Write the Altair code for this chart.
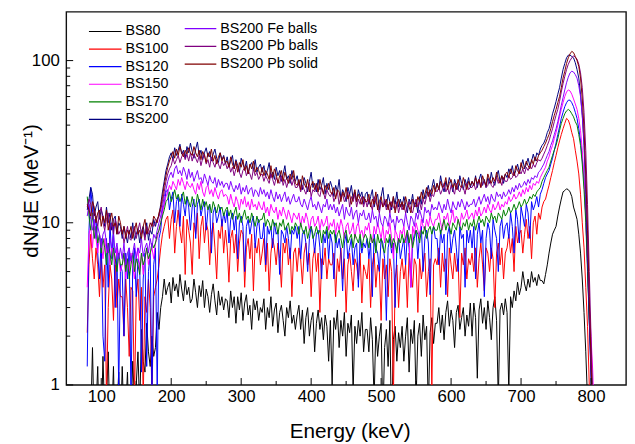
import altair as alt
import pandas as pd

# ---------------- data ----------------
# spectra sampled every 2.5 keV from 80 keV to 805 keV (291 bins)
E_START, E_STEP = 80.0, 2.5

series_names = ["BS80", "BS100", "BS120", "BS150", "BS170", "BS200",
                "BS200 Fe balls", "BS200 Pb balls", "BS200 Pb solid"]
series_colors = ["#000000", "#FF0000", "#0000FF", "#FF00FF", "#008000",
                 "#000080", "#8000FF", "#800080", "#800000"]

bs80 = [
    0.5, 0.4, 0.6, 1.7, 0.5, 0.7, 1.3, 0.4, 0.5, 1.5, 0.6, 0.8, 1.6, 0.5, 0.6, 1.3, 0.4, 0.7, 1.2, 0.5,
    1.3, 0.6, 0.7, 1.2, 0.5, 0.6, 1.4, 0.8, 1.0, 1.6, 0.7, 2.2, 1.4, 1.2, 2.4, 1.6, 1.3, 2.0, 1.5, 1.7,
    2.8, 2.2, 3.0, 3.5, 4.5, 3.6, 4.0, 4.3, 3.2, 4.6, 3.8, 4.2, 3.5, 4.8, 3.9, 3.3, 4.4, 3.6, 4.0, 3.2,
    3.4, 4.5, 3.7, 3.0, 4.1, 3.5, 4.4, 3.0, 3.9, 3.5, 2.8, 3.6, 4.2, 3.3, 2.7, 3.8, 3.1, 3.5, 2.9, 3.4,
    3.3, 2.6, 3.8, 3.0, 3.5, 2.4, 3.5, 2.9, 3.7, 2.5, 3.2, 3.6, 2.7, 3.1, 2.2, 3.4, 2.9, 3.3, 2.5, 3.0,
    2.8, 3.4, 2.2, 3.0, 2.6, 3.5, 2.3, 2.9, 3.2, 2.1, 2.8, 3.1, 2.5, 2.0, 3.0, 2.6, 3.3, 2.4, 2.7, 2.2,
    2.7, 3.1, 2.2, 2.9, 1.8, 2.6, 3.0, 2.0, 2.5, 2.8, 1.6, 2.4, 2.9, 2.2, 2.6, 1.9, 2.7, 2.3, 1.4, 2.5,
    1.0, 2.6, 2.2, 2.9, 1.7, 2.5, 2.0, 2.8, 1.5, 2.4, 2.1, 2.7, 0.9, 2.3, 1.8, 2.5, 2.0, 2.8, 1.6, 2.2,
    2.2, 1.6, 2.6, 1.9, 0.8, 2.3, 1.5, 2.0, 2.4, 0.6, 1.7, 2.2, 1.3, 2.5, 0.5, 1.9, 2.3, 1.4, 2.1, 1.7,
    2.3, 1.4, 2.0, 2.6, 1.2, 2.2, 1.8, 2.5, 0.8, 2.0, 2.4, 1.5, 2.7, 1.9, 2.3, 0.7, 2.1, 2.6, 1.8, 2.4,
    2.4, 3.0, 2.1, 2.7, 1.9, 2.8, 3.3, 2.3, 2.9, 2.5, 1.7, 2.8, 3.1, 2.2, 2.6, 3.0, 2.0, 2.7, 2.3, 3.2,
    2.0, 3.2, 2.6, 1.1, 2.9, 3.4, 2.4, 3.0, 2.2, 3.3, 2.6, 1.9, 3.0, 3.5, 2.5, 0.8, 2.9, 3.2, 2.7, 3.4,
    2.8, 0.9, 3.5, 3.0, 3.8, 3.3, 4.3, 3.6, 4.0, 5.0, 4.2, 3.8, 4.5, 4.0, 5.0, 4.3, 4.6, 4.1, 4.8, 4.4,
    4.4, 4.2, 4.8, 5.5, 6.5, 7.5, 8.5, 9.0, 9.5, 11.0, 12.5, 14.0, 15.5, 15.8, 16.2, 16.0, 15.5, 14.5, 12.5, 11.5,
    10.5, 8.5, 6.5, 4.5, 2.8, 1.6, 0.8, 0.5, 0.5, 0.5, 0.5]

bs100 = [
    2.1, 5.5, 8.5, 6.0, 4.5, 7.0, 5.5, 3.5, 6.5, 4.0, 5.5, 0.8, 3.0, 5.5, 4.5, 2.5, 6.0, 3.0, 4.5, 3.5,
    3.5, 2.0, 4.5, 3.0, 1.5, 4.0, 3.8, 0.8, 3.5, 4.5, 2.5, 4.0, 0.8, 3.5, 2.8, 4.5, 3.0, 0.8, 3.5, 4.0,
    4.5, 5.5, 7.0, 8.5, 9.5, 10.5, 11.0, 8.0, 10.5, 12.0, 6.5, 9.5, 12.0, 9.0, 7.5, 11.0, 4.8, 10.5, 9.0, 7.5,
    4.8, 10.0, 8.5, 11.5, 6.0, 9.5, 11.0, 7.5, 10.0, 9.0, 5.5, 8.5, 10.0, 7.0, 4.5, 9.0, 8.0, 10.5, 6.5, 9.0,
    7.0, 4.3, 8.0, 9.0, 6.5, 8.5, 5.0, 7.5, 9.0, 8.5, 4.0, 7.0, 8.0, 6.0, 8.5, 3.8, 7.5, 6.5, 8.0, 5.5,
    6.5, 8.0, 5.0, 7.5, 3.8, 6.5, 8.0, 7.0, 5.5, 7.5, 6.0, 4.0, 7.5, 6.5, 8.0, 5.5, 7.0, 3.5, 6.5, 7.0,
    5.0, 7.0, 6.0, 4.2, 6.5, 7.5, 5.5, 6.5, 3.5, 6.0, 7.0, 5.0, 6.5, 2.8, 6.0, 5.5, 7.0, 4.5, 6.0, 5.5,
    5.5, 6.5, 3.5, 6.0, 5.0, 7.0, 4.5, 6.0, 2.8, 5.5, 6.5, 5.0, 3.8, 6.0, 5.5, 4.5, 6.5, 3.2, 5.5, 5.0,
    4.5, 6.0, 3.0, 5.5, 6.5, 4.0, 5.5, 5.0, 2.5, 6.0, 4.5, 5.5, 3.5, 6.0, 5.0, 0.8, 4.5, 5.5, 3.0, 5.0,
    6.0, 4.5, 5.5, 3.0, 6.5, 5.0, 4.0, 6.0, 5.5, 2.8, 6.0, 4.5, 5.5, 6.5, 3.5, 5.0, 6.0, 0.9, 5.5, 6.0,
    5.5, 7.0, 4.0, 6.5, 5.0, 6.0, 3.5, 7.0, 5.5, 4.5, 6.5, 5.0, 6.0, 2.6, 6.5, 5.5, 7.0, 4.5, 6.0, 5.5,
    6.5, 5.0, 7.0, 4.0, 6.0, 7.5, 5.5, 3.8, 7.0, 6.5, 5.0, 7.0, 6.0, 3.0, 6.5, 7.5, 5.5, 7.0, 4.5, 6.5,
    7.0, 8.5, 6.5, 8.0, 5.0, 9.5, 7.5, 8.5, 9.0, 6.5, 8.5, 10.5, 8.0, 9.5, 6.0, 10.0, 11.0, 8.5, 11.5, 10.5,
    12.5, 13.5, 14.0, 15.5, 17.0, 19.0, 21.0, 23.5, 26.0, 29.0, 32.0, 35.0, 38.0, 41.0, 44.0, 43.0, 40.0, 36.0, 33.0, 28.0,
    24.0, 20.0, 15.0, 10.0, 7.0, 4.0, 2.3, 1.0, 0.6, 0.5, 0.5]

bs120 = [
    1.3, 9.0, 16.5, 12.0, 9.0, 11.0, 6.5, 4.5, 8.0, 2.0, 1.4, 8.0, 4.0, 10.0, 6.0, 9.5, 3.0, 7.0, 0.9, 5.5,
    5.0, 2.0, 6.5, 4.5, 7.0, 0.8, 5.5, 7.0, 3.5, 6.0, 5.5, 1.2, 4.5, 6.5, 1.3, 5.0, 6.5, 0.8, 5.5, 7.0,
    0.9, 8.0, 9.0, 12.0, 13.0, 15.5, 16.0, 12.0, 14.0, 15.5, 10.0, 13.5, 14.5, 9.5, 15.0, 13.0, 11.0, 14.5, 12.5, 9.0,
    12.5, 14.0, 8.0, 13.0, 14.0, 11.0, 12.5, 13.5, 9.0, 12.0, 13.0, 6.5, 11.5, 12.5, 10.0, 11.0, 12.5, 9.5, 11.5, 10.0,
    12.0, 7.5, 10.5, 11.5, 9.0, 11.0, 6.0, 10.0, 11.0, 9.5, 5.0, 9.5, 10.5, 8.5, 10.0, 11.0, 7.0, 9.5, 10.5, 8.0,
    8.0, 10.0, 5.5, 9.5, 8.5, 9.5, 7.0, 10.0, 8.5, 9.0, 4.8, 9.0, 8.5, 7.5, 9.5, 8.0, 6.0, 9.0, 8.5, 9.5,
    8.0, 9.5, 6.0, 8.5, 9.0, 7.5, 5.0, 8.0, 9.5, 8.5, 6.5, 8.5, 9.0, 7.0, 4.5, 8.5, 7.5, 9.0, 6.0, 8.5,
    7.5, 4.5, 8.5, 7.0, 8.0, 6.5, 3.8, 7.5, 8.5, 6.0, 7.0, 8.0, 5.5, 7.0, 7.5, 4.0, 8.0, 6.5, 7.5, 7.0,
    8.0, 6.0, 7.5, 3.5, 8.5, 7.0, 6.5, 5.0, 8.0, 7.5, 6.0, 2.5, 7.0, 8.0, 6.5, 7.5, 3.0, 7.0, 8.0, 6.0,
    7.0, 8.0, 5.5, 8.5, 7.0, 4.0, 7.5, 8.5, 9.0, 6.0, 8.5, 9.5, 5.0, 8.0, 9.0, 7.5, 3.6, 8.5, 9.5, 8.0,
    8.0, 5.5, 9.0, 7.5, 8.5, 3.6, 8.5, 9.5, 6.5, 8.0, 9.0, 7.0, 5.0, 9.5, 8.0, 8.5, 4.0, 9.0, 7.5, 9.0,
    7.0, 9.5, 4.5, 8.5, 10.0, 7.5, 9.0, 3.5, 8.0, 10.0, 9.0, 6.0, 10.5, 9.0, 8.0, 5.0, 9.5, 10.5, 8.0, 9.5,
    10.0, 8.0, 11.5, 9.5, 6.5, 12.0, 10.5, 7.5, 12.5, 11.0, 9.5, 13.0, 11.5, 8.0, 13.5, 12.0, 13.0, 14.5, 12.5, 15.0,
    16.0, 17.5, 19.0, 20.0, 21.0, 23.0, 25.0, 28.0, 31.0, 35.0, 39.0, 44.0, 48.0, 52.0, 55.0, 57.0, 57.0, 55.0, 52.0, 48.0,
    44.0, 38.0, 32.0, 25.0, 18.0, 11.0, 5.5, 2.5, 1.2, 0.5, 0.5]

bs150 = [
    4.0, 8.5, 9.5, 7.0, 10.0, 8.0, 6.5, 8.5, 7.5, 6.0, 8.0, 6.5, 7.5, 5.5, 7.0, 6.5, 5.5, 7.0, 6.0, 5.0,
    5.5, 6.5, 4.5, 6.0, 5.0, 6.5, 5.5, 4.5, 6.0, 7.0, 5.0, 6.5, 4.8, 6.0, 7.0, 5.5, 6.5, 7.0, 6.0, 7.5,
    8.0, 9.0, 10.0, 11.5, 13.0, 14.5, 15.5, 17.0, 16.0, 18.0, 17.0, 16.0, 18.5, 17.0, 19.0, 17.5, 16.0, 18.0, 17.0, 16.5,
    17.5, 16.0, 15.0, 17.5, 16.0, 18.0, 15.5, 14.5, 16.5, 17.0, 15.0, 16.0, 14.5, 16.5, 15.0, 14.0, 15.5, 16.0, 14.5, 15.0,
    14.5, 13.0, 15.0, 13.5, 12.5, 14.5, 13.5, 12.0, 14.0, 13.0, 14.5, 12.5, 13.5, 12.0, 14.0, 12.5, 13.0, 12.0, 13.5, 12.5,
    12.0, 13.5, 11.5, 12.5, 11.0, 13.0, 12.0, 11.5, 12.5, 10.5, 12.0, 11.0, 12.5, 11.5, 10.5, 12.0, 11.0, 10.0, 11.5, 11.0,
    10.5, 11.5, 9.5, 11.0, 10.0, 11.5, 10.5, 9.0, 10.5, 11.0, 9.5, 10.0, 11.0, 9.0, 10.5, 9.5, 10.0, 11.0, 9.0, 10.0,
    9.5, 10.5, 8.5, 10.0, 9.0, 10.5, 9.5, 8.0, 9.5, 10.0, 8.5, 9.0, 10.0, 8.0, 9.5, 10.0, 8.5, 9.0, 8.0, 9.5,
    9.0, 10.0, 8.0, 7.5, 9.5, 8.5, 10.0, 9.0, 8.0, 9.5, 7.5, 9.0, 8.5, 10.0, 8.0, 6.0, 9.0, 8.5, 7.5, 9.0,
    8.5, 9.5, 7.5, 9.0, 8.0, 4.0, 9.5, 8.5, 10.0, 9.0, 8.0, 10.5, 9.5, 9.0, 10.5, 9.5, 11.0, 10.0, 9.5, 10.5,
    10.5, 11.5, 10.0, 9.0, 11.0, 10.5, 11.5, 9.5, 10.5, 12.0, 10.0, 11.0, 10.5, 9.5, 11.5, 10.5, 11.0, 12.0, 10.5, 11.0,
    11.5, 10.5, 12.0, 11.0, 12.5, 11.0, 11.5, 12.5, 11.5, 13.0, 12.0, 11.5, 13.0, 12.0, 12.5, 13.5, 12.0, 13.0, 12.5, 13.5,
    13.0, 14.5, 13.5, 14.0, 15.0, 14.0, 14.5, 15.5, 14.5, 16.0, 15.0, 16.5, 15.5, 17.0, 16.0, 17.5, 17.0, 18.0, 17.5, 19.0,
    20.0, 21.0, 22.0, 24.0, 25.5, 28.0, 30.0, 33.0, 36.0, 40.0, 45.0, 50.0, 55.0, 60.0, 64.0, 66.0, 65.0, 62.0, 58.0, 54.0,
    50.0, 44.0, 37.0, 28.0, 19.0, 11.0, 5.5, 3.0, 2.0, 1.2, 0.5]

bs170 = [
    14.5, 11.0, 9.0, 11.5, 8.0, 9.5, 7.5, 8.5, 6.5, 8.0, 7.0, 5.5, 7.5, 6.5, 5.5, 7.0, 6.0, 5.0, 6.5, 5.5,
    5.5, 6.5, 5.0, 6.0, 4.5, 5.5, 6.5, 5.0, 6.0, 5.5, 4.8, 6.5, 5.5, 6.0, 7.0, 6.0, 6.5, 7.5, 7.0, 7.5,
    8.5, 9.0, 10.0, 11.0, 12.0, 13.5, 14.0, 15.5, 13.5, 14.5, 16.0, 14.0, 15.0, 13.5, 14.5, 15.5, 13.0, 14.5, 13.5, 12.5,
    14.5, 13.0, 12.5, 15.0, 13.5, 12.0, 14.0, 12.5, 13.5, 12.0, 13.0, 11.5, 13.5, 12.5, 11.5, 13.0, 12.0, 12.5, 11.0, 12.0,
    12.5, 11.0, 12.0, 10.5, 11.5, 12.5, 10.5, 11.5, 10.0, 11.0, 12.0, 10.5, 11.0, 10.0, 11.5, 10.5, 9.5, 11.0, 10.0, 10.5,
    10.5, 11.5, 9.5, 10.5, 10.0, 9.0, 10.5, 9.5, 10.0, 8.5, 10.0, 9.5, 10.5, 9.0, 9.5, 10.0, 8.5, 9.5, 9.0, 10.0,
    9.5, 8.5, 10.0, 9.0, 8.5, 9.5, 8.0, 9.0, 9.5, 8.0, 8.5, 9.5, 8.5, 9.0, 7.5, 9.0, 8.5, 9.5, 8.0, 9.0,
    8.5, 9.0, 7.5, 8.5, 9.0, 8.0, 7.0, 8.5, 9.0, 7.5, 8.0, 8.5, 7.0, 8.5, 8.0, 7.5, 8.5, 7.0, 8.0, 8.5,
    8.0, 7.0, 8.5, 7.5, 8.0, 6.5, 8.5, 7.5, 8.0, 7.0, 6.5, 8.0, 7.5, 8.5, 7.0, 8.0, 7.5, 6.5, 8.0, 7.5,
    8.5, 7.5, 8.0, 9.0, 7.5, 8.5, 7.0, 8.0, 9.0, 8.5, 7.5, 9.0, 8.5, 9.5, 8.0, 9.0, 9.5, 8.5, 9.5, 9.0,
    9.0, 10.0, 8.5, 9.5, 10.5, 9.0, 10.0, 9.5, 8.5, 10.0, 9.5, 9.0, 10.5, 9.5, 9.0, 10.0, 9.5, 10.5, 9.0, 10.0,
    9.5, 10.5, 9.0, 10.0, 11.0, 10.0, 10.5, 9.5, 11.0, 10.5, 10.0, 11.5, 10.5, 11.0, 10.0, 11.5, 11.0, 10.5, 12.0, 11.0,
    11.5, 12.5, 11.5, 12.0, 13.0, 12.0, 12.5, 13.5, 12.5, 13.0, 14.0, 13.0, 13.5, 14.5, 14.0, 15.0, 14.5, 15.5, 16.0, 16.5,
    18.0, 19.0, 20.0, 21.0, 22.0, 24.0, 26.0, 28.0, 30.0, 33.0, 37.0, 41.0, 44.0, 47.0, 49.0, 50.0, 49.0, 47.0, 45.0, 42.0,
    40.0, 35.0, 30.0, 23.0, 16.0, 10.0, 5.0, 2.5, 1.5, 0.8, 0.5]

bs200 = [
    12.0, 14.0, 16.5, 15.0, 11.0, 12.5, 13.5, 10.5, 12.0, 11.0, 9.5, 12.5, 10.0, 11.5, 9.0, 10.5, 11.0, 8.5, 10.0, 9.5,
    8.0, 9.5, 8.5, 7.5, 9.0, 8.0, 10.0, 7.8, 8.5, 9.2, 7.5, 8.8, 9.5, 8.2, 10.0, 7.8, 9.0, 8.5, 10.5, 9.5,
    10.5, 11.0, 13.0, 15.5, 18.0, 21.0, 23.0, 25.5, 27.0, 24.5, 29.0, 26.0, 28.0, 30.5, 26.5, 28.0, 25.0, 29.5, 27.0, 31.0,
    27.5, 25.0, 28.5, 31.5, 26.0, 28.0, 24.5, 27.0, 29.0, 25.5, 27.5, 24.0, 26.5, 28.5, 25.0, 23.5, 27.0, 24.5, 26.0, 23.0,
    25.5, 22.0, 24.0, 26.0, 21.5, 24.5, 22.5, 20.5, 25.0, 23.0, 21.5, 24.0, 20.0, 22.5, 23.5, 21.0, 24.5, 20.5, 22.0, 23.0,
    20.5, 22.5, 19.5, 21.0, 23.5, 19.0, 20.5, 18.5, 22.0, 19.5, 21.0, 18.0, 20.0, 22.5, 18.5, 19.5, 17.5, 21.0, 19.0, 18.0,
    19.5, 17.0, 18.5, 16.0, 19.0, 17.5, 15.5, 18.0, 20.5, 16.5, 17.5, 15.5, 18.5, 16.0, 17.0, 19.0, 15.0, 17.5, 16.0, 18.0,
    16.5, 14.5, 17.0, 15.5, 18.5, 14.0, 16.0, 15.0, 13.5, 16.5, 15.0, 17.0, 14.0, 15.5, 13.5, 16.0, 14.5, 15.5, 13.0, 15.0,
    15.5, 13.0, 14.5, 16.0, 12.5, 14.0, 15.0, 12.0, 14.5, 16.5, 13.0, 12.5, 15.0, 13.5, 12.0, 14.5, 13.0, 15.5, 12.5, 14.0,
    12.5, 14.5, 13.0, 11.5, 14.0, 13.0, 15.0, 12.5, 13.5, 11.5, 14.5, 13.0, 16.0, 14.0, 15.5, 17.0, 14.5, 16.5, 18.5, 16.0,
    17.5, 16.0, 19.5, 17.0, 15.5, 18.0, 16.5, 19.0, 17.5, 15.5, 18.5, 17.0, 16.0, 19.5, 17.5, 16.0, 18.5, 17.0, 19.0, 16.5,
    18.0, 17.0, 19.5, 16.5, 18.5, 20.0, 17.0, 18.5, 16.5, 19.0, 17.5, 20.5, 18.0, 17.0, 19.5, 21.0, 18.0, 19.5, 17.5, 20.0,
    19.0, 21.5, 20.0, 22.5, 19.5, 21.0, 23.0, 20.5, 22.0, 24.5, 21.5, 23.0, 25.0, 22.5, 24.0, 26.5, 24.0, 27.0, 26.0, 28.5,
    30.0, 31.0, 33.0, 36.0, 38.0, 42.0, 47.0, 51.0, 56.0, 62.0, 68.0, 78.0, 88.0, 96.0, 104.0, 108.0, 108.0, 106.0, 104.0, 97.0,
    88.0, 78.0, 62.0, 46.0, 30.0, 15.0, 6.0, 2.5, 1.1, 0.6, 0.5]

bs200_fe = [
    11.0, 13.0, 10.5, 9.0, 10.5, 8.0, 9.5, 8.5, 7.0, 8.5, 9.0, 7.5, 6.5, 8.0, 7.0, 8.5, 6.5, 7.5, 6.0, 7.0,
    6.0, 7.5, 5.5, 6.5, 7.0, 5.8, 6.5, 7.5, 6.0, 7.0, 6.5, 8.0, 6.2, 7.0, 7.5, 6.5, 8.0, 7.0, 8.5, 8.0,
    9.0, 10.0, 11.0, 12.5, 14.5, 16.0, 18.0, 19.5, 20.5, 19.0, 21.5, 22.5, 20.0, 21.0, 19.5, 22.0, 20.5, 18.5, 21.5, 19.0,
    20.5, 18.0, 19.5, 21.0, 18.5, 19.0, 17.5, 20.0, 18.5, 17.0, 19.5, 18.0, 17.5, 19.0, 16.5, 18.5, 17.0, 18.0, 16.5, 17.5,
    17.5, 16.0, 18.0, 16.5, 15.5, 17.0, 16.0, 17.5, 15.0, 16.5, 15.5, 17.0, 15.0, 16.0, 16.5, 14.5, 16.0, 15.5, 14.5, 16.5,
    15.0, 16.0, 14.5, 15.5, 14.0, 16.0, 14.5, 13.5, 15.5, 14.0, 15.0, 13.5, 14.5, 15.5, 13.5, 14.5, 13.0, 14.0, 15.0, 13.5,
    13.5, 14.5, 13.0, 12.5, 14.0, 13.0, 12.0, 13.5, 14.5, 12.5, 13.0, 12.0, 13.5, 12.5, 11.5, 13.0, 12.5, 14.0, 12.0, 13.0,
    12.0, 13.0, 11.5, 12.5, 11.0, 12.0, 13.0, 10.5, 12.5, 11.5, 11.0, 12.5, 10.5, 11.5, 12.0, 10.0, 11.5, 11.0, 12.0, 10.5,
    10.5, 11.5, 10.0, 12.0, 10.5, 11.0, 9.5, 11.5, 10.0, 9.5, 11.0, 10.5, 9.5, 11.5, 10.0, 10.5, 9.0, 11.0, 10.0, 10.5,
    10.5, 9.5, 11.5, 10.0, 9.0, 11.0, 10.5, 9.5, 11.5, 10.5, 12.0, 11.0, 10.0, 12.5, 11.5, 12.0, 11.0, 13.0, 12.0, 12.5,
    12.0, 13.5, 12.5, 11.5, 13.0, 12.0, 14.0, 12.5, 11.5, 13.5, 12.5, 12.0, 13.5, 12.5, 14.0, 13.0, 12.0, 13.5, 12.5, 13.0,
    13.0, 14.0, 12.5, 13.5, 14.5, 13.0, 14.0, 15.0, 13.5, 14.5, 13.0, 15.0, 14.0, 13.5, 15.5, 14.5, 15.0, 14.0, 15.5, 14.5,
    15.0, 16.0, 15.0, 16.5, 15.5, 17.0, 16.0, 17.5, 16.5, 17.0, 18.0, 17.0, 18.5, 17.5, 19.0, 18.5, 19.5, 19.0, 20.5, 21.0,
    22.0, 23.0, 24.5, 26.0, 27.5, 30.0, 32.0, 35.0, 38.0, 42.0, 47.0, 53.0, 59.0, 66.0, 73.0, 79.0, 84.0, 86.0, 85.0, 82.0,
    78.0, 70.0, 60.0, 46.0, 32.0, 18.0, 8.0, 3.2, 1.4, 0.6, 0.5]

bs200_pb_balls = [
    12.5, 14.0, 13.0, 10.5, 12.0, 11.0, 9.5, 11.5, 12.5, 10.0, 9.0, 10.5, 11.5, 9.0, 10.0, 8.5, 10.5, 9.5, 8.5, 9.0,
    9.0, 7.5, 8.5, 9.5, 8.0, 7.8, 8.8, 9.5, 8.0, 9.0, 10.0, 8.5, 9.0, 7.8, 9.5, 8.5, 9.0, 10.0, 9.5, 10.0,
    10.5, 11.0, 12.0, 13.5, 15.5, 18.0, 20.0, 21.5, 22.5, 25.0, 23.0, 24.5, 26.0, 23.5, 25.5, 27.0, 24.5, 26.5, 24.0, 27.0,
    24.0, 26.5, 25.0, 23.5, 26.0, 22.5, 25.0, 26.5, 23.0, 24.5, 22.0, 25.5, 23.5, 22.0, 24.5, 23.0, 21.5, 24.0, 22.5, 23.5,
    21.5, 23.0, 20.5, 22.0, 19.5, 21.5, 22.5, 20.5, 19.0, 21.0, 22.0, 19.5, 21.0, 20.0, 18.5, 21.5, 19.5, 20.5, 18.5, 19.5,
    20.0, 18.0, 19.5, 18.5, 17.5, 20.0, 18.5, 17.0, 19.0, 18.0, 17.5, 19.5, 17.0, 18.5, 16.5, 18.0, 19.0, 17.0, 18.5, 16.5,
    16.5, 17.5, 15.5, 17.0, 16.0, 15.0, 16.5, 17.5, 14.5, 16.0, 15.5, 17.0, 15.0, 14.5, 16.5, 15.5, 14.0, 16.0, 15.0, 14.5,
    15.5, 13.5, 14.5, 15.5, 13.0, 14.5, 15.0, 13.5, 14.0, 15.5, 12.5, 14.5, 13.5, 15.0, 12.5, 14.0, 13.0, 14.5, 12.5, 14.0,
    12.5, 14.0, 13.0, 12.0, 14.5, 13.5, 12.5, 11.5, 13.5, 12.5, 14.0, 12.0, 13.0, 11.5, 13.5, 12.5, 12.0, 13.5, 11.5, 13.0,
    12.0, 13.0, 11.5, 12.5, 13.5, 12.0, 11.5, 13.0, 14.0, 12.5, 13.5, 12.0, 14.0, 13.0, 14.5, 15.5, 13.5, 15.0, 14.5, 16.0,
    15.5, 16.5, 15.0, 16.0, 17.5, 15.5, 16.5, 15.0, 17.0, 16.0, 15.0, 17.5, 16.0, 15.5, 17.0, 16.5, 15.0, 17.5, 16.0, 16.5,
    16.5, 17.5, 16.0, 17.0, 18.5, 16.5, 17.5, 18.0, 16.5, 17.0, 18.5, 17.0, 16.5, 18.0, 19.0, 17.5, 18.5, 17.0, 19.0, 18.0,
    18.0, 19.5, 18.5, 19.0, 20.5, 19.0, 19.5, 21.0, 20.0, 21.5, 20.0, 22.0, 21.0, 22.5, 21.5, 23.0, 22.0, 23.5, 24.5, 24.0,
    25.0, 26.5, 28.0, 30.0, 32.0, 35.0, 38.0, 42.0, 46.0, 50.0, 56.0, 64.0, 72.0, 80.0, 88.0, 95.0, 100.0, 104.0, 107.0, 105.0,
    102.0, 95.0, 84.0, 68.0, 48.0, 28.0, 13.0, 5.0, 2.0, 0.8, 0.5]

bs200_pb_solid = [
    13.0, 12.0, 11.0, 13.5, 12.5, 10.0, 11.5, 12.0, 9.5, 11.0, 10.0, 12.0, 9.0, 10.5, 11.5, 9.5, 10.0, 8.5, 11.0, 10.0,
    8.5, 9.5, 8.0, 9.0, 8.5, 9.5, 8.0, 9.0, 10.0, 8.5, 9.0, 8.0, 9.5, 10.5, 8.5, 9.0, 10.0, 9.5, 11.0, 10.5,
    10.0, 11.5, 12.5, 14.5, 17.0, 19.5, 22.0, 24.0, 25.5, 27.5, 25.0, 28.5, 26.0, 29.5, 27.0, 25.5, 28.0, 26.5, 29.0, 27.0,
    26.0, 29.5, 27.0, 25.5, 28.0, 24.5, 27.5, 26.0, 23.5, 27.0, 25.5, 28.5, 24.0, 26.0, 23.0, 25.5, 27.0, 24.0, 25.5, 23.5,
    24.0, 22.0, 25.5, 23.0, 21.5, 24.0, 20.5, 23.5, 22.0, 24.5, 21.0, 22.5, 20.0, 23.0, 21.5, 24.0, 20.5, 22.0, 21.0, 19.5,
    22.0, 19.5, 21.0, 20.0, 18.5, 22.5, 19.0, 21.5, 20.0, 17.5, 19.5, 21.0, 18.0, 20.5, 19.0, 17.5, 20.0, 18.5, 21.0, 17.5,
    17.0, 18.5, 16.0, 19.5, 17.5, 16.5, 18.5, 15.5, 17.0, 18.0, 16.0, 17.5, 15.5, 18.5, 16.5, 15.0, 17.0, 16.0, 17.5, 15.5,
    15.0, 16.5, 14.0, 16.0, 15.5, 13.5, 15.5, 14.5, 16.5, 14.0, 15.0, 13.0, 14.5, 16.0, 13.5, 15.0, 14.0, 13.0, 14.5, 13.5,
    13.5, 15.0, 12.5, 14.0, 13.0, 15.5, 12.0, 13.5, 14.5, 12.5, 13.0, 14.0, 12.0, 13.5, 12.5, 14.5, 11.5, 13.0, 14.0, 12.5,
    13.5, 12.0, 14.5, 13.0, 12.5, 11.5, 14.0, 13.0, 12.5, 14.5, 13.5, 15.5, 14.0, 15.0, 16.5, 14.5, 16.0, 15.0, 17.0, 15.5,
    17.5, 16.0, 18.0, 16.5, 17.0, 19.0, 16.0, 17.5, 18.5, 16.5, 17.5, 16.0, 18.5, 17.0, 16.5, 19.0, 17.5, 16.0, 18.0, 17.0,
    18.0, 17.0, 19.0, 17.5, 18.5, 16.5, 19.5, 18.0, 17.0, 20.0, 18.5, 17.5, 19.0, 18.0, 20.5, 18.5, 17.5, 19.5, 18.5, 20.0,
    20.5, 19.0, 21.5, 20.0, 19.5, 22.5, 21.0, 20.0, 23.5, 21.5, 22.0, 24.0, 22.5, 21.5, 24.5, 23.0, 25.5, 24.0, 26.0, 27.0,
    28.0, 29.5, 31.0, 33.0, 35.0, 38.0, 42.0, 46.0, 50.0, 55.0, 60.0, 68.0, 78.0, 86.0, 96.0, 104.0, 110.0, 114.0, 112.0, 106.0,
    100.0, 92.0, 78.0, 58.0, 38.0, 20.0, 9.0, 3.5, 1.4, 0.6, 0.5]

series_values = [bs80, bs100, bs120, bs150, bs170, bs200,
                 bs200_fe, bs200_pb_balls, bs200_pb_solid]

x_tick_values = [100, 200, 300, 400, 500, 600, 700, 800]
x_minor_ticks = [150, 250, 350, 450, 550, 650, 750]
y_tick_values = [1, 10, 100]
y_minor_ticks = [2, 3, 4, 5, 6, 7, 8, 9, 20, 30, 40, 50, 60, 70, 80, 90]

# ---------------- chart ----------------
W, H = 567, 378
FONT = "Liberation Sans"

x_scale = alt.Scale(domain=[50, 850], nice=False, zero=False)
y_scale = alt.Scale(type="log", domain=[1, 200], nice=False)

x_enc = alt.X("E:Q", scale=x_scale,
              axis=alt.Axis(values=x_tick_values, format="d", title="Energy (keV)",
                            titleX=287, titleY=53, titleBaseline="alphabetic",
                            titleAlign="center", labelPadding=4))
y_enc = alt.Y("dNdE:Q", scale=y_scale,
              axis=alt.Axis(values=y_tick_values, format="d", title="dN/dE (MeV\u207b\u00b9)",
                            titleX=-29, titleY=181, titleAngle=270,
                            titleBaseline="alphabetic", titleAlign="center",
                            labelPadding=7))

layers = []
for name, color, vals in zip(series_names, series_colors, series_values):
    energy = [E_START + E_STEP * k for k in range(len(vals))]
    df = pd.DataFrame({"E": energy, "dNdE": vals})
    layers.append(
        alt.Chart(df).mark_line(color=color, strokeWidth=1, clip=True)
        .encode(x=x_enc, y=y_enc)
    )

# inward ticks
xt_major = pd.DataFrame({"E": x_tick_values})
xt_minor = pd.DataFrame({"E": x_minor_ticks})
yt_major = pd.DataFrame({"dNdE": y_tick_values})
yt_minor = pd.DataFrame({"dNdE": y_minor_ticks})
layers.append(alt.Chart(xt_major).mark_rule(color="black", strokeWidth=1)
              .encode(x=alt.X("E:Q", scale=x_scale), y=alt.value(H), y2=alt.value(H - 7)))
layers.append(alt.Chart(xt_minor).mark_rule(color="black", strokeWidth=1)
              .encode(x=alt.X("E:Q", scale=x_scale), y=alt.value(H), y2=alt.value(H - 4)))
layers.append(alt.Chart(yt_major).mark_rule(color="black", strokeWidth=1)
              .encode(y=alt.Y("dNdE:Q", scale=y_scale), x=alt.value(0), x2=alt.value(7)))
layers.append(alt.Chart(yt_minor).mark_rule(color="black", strokeWidth=1)
              .encode(y=alt.Y("dNdE:Q", scale=y_scale), x=alt.value(0), x2=alt.value(4)))

# manual two-column legend (column-major, 6 + 3 items)
for i, (name, color) in enumerate(zip(series_names, series_colors)):
    if i < 6:
        lx0, lx1, tx, ly = 23, 56, 60, 20 + 17.8 * i
    else:
        j = i - 6
        lx0, lx1, tx, ly = 120, 152, 156, 17 + 18 * j
    ldf = pd.DataFrame({"label": [name]})
    layers.append(alt.Chart(ldf).mark_rule(color=color, strokeWidth=1.2)
                  .encode(x=alt.value(lx0), x2=alt.value(lx1), y=alt.value(ly)))
    layers.append(alt.Chart(ldf).mark_text(align="left", baseline="middle",
                                           font=FONT, fontSize=14.5, color="#000000")
                  .encode(x=alt.value(tx), y=alt.value(ly), text="label:N"))

chart = (
    alt.layer(*layers)
    .properties(width=W, height=H,
                autosize=alt.AutoSizeParams(type="none"),
                padding={"left": 59, "top": 1, "right": 1, "bottom": 57},
                background="white")
    .configure_view(stroke="#111111", strokeWidth=1.4)
    .configure_axis(grid=False, domain=False, ticks=False,
                    labelFont=FONT, labelFontSize=17, labelColor="#000000",
                    titleFont=FONT, titleFontSize=21, titleFontWeight="normal",
                    titleColor="#000000")
)

chart.save("out.html", embed_options={"renderer": "svg", "actions": False})
